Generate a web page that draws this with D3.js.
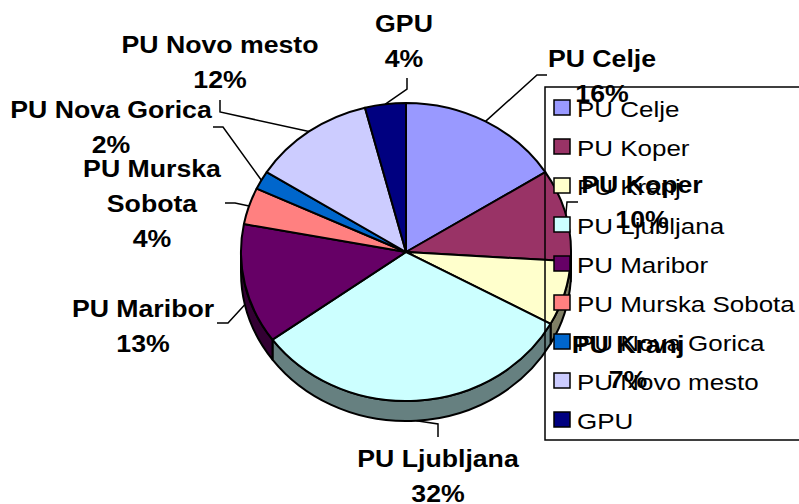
<!DOCTYPE html>
<html>
<head>
<meta charset="utf-8">
<script src="https://cdn.jsdelivr.net/npm/d3@7"></script>
<style>
  body { margin: 0; background: #fff; }
  svg { display: block; font-family: "Liberation Sans", Arial, sans-serif; }
</style>
</head>
<body>
<div id="chart"></div>
<script>
const categories = ['PU Celje', 'PU Koper', 'PU Kranj', 'PU Ljubljana', 'PU Maribor',
  'PU Murska Sobota', 'PU Nova Gorica', 'PU Novo mesto', 'GPU'];
const values = [16, 10, 7, 32, 13, 4, 2, 12, 4];
const colors = ['#9999ff', '#993366', '#ffffcc', '#ccffff', '#660066',
  '#ff8080', '#0066cc', '#ccccff', '#000080'];
const labelNames = [['PU Celje'], ['PU Koper'], ['PU Kranj'], ['PU Ljubljana'], ['PU Maribor'],
  ['PU Murska', 'Sobota'], ['PU Nova Gorica'], ['PU Novo mesto'], ['GPU']];

// label placement (centre x, first baseline) and leader elbows, as Excel left them
const labelLayout = [
  { x: 602, y: 67, leader: [[547, 75], [537, 75]] },
  { x: 642, y: 193, leader: [[578, 202], [567, 202]] },
  { x: 628, y: 353, leader: null },
  { x: 438, y: 467, leader: [[438, 437], [438, 424]] },
  { x: 143, y: 317, leader: [[217, 323], [228, 323]] },
  { x: 152, y: 177, leader: [[225, 203], [235, 203]] },
  { x: 111, y: 118, leader: [[213, 127], [223, 127]] },
  { x: 220, y: 53, leader: [[220, 100], [220, 112]] },
  { x: 404, y: 32, leader: [[407, 78], [407, 89]] }
];

const width = 799;
const height = 504;
const cx = 406, cy = 252, rx = 165, ry = 149, depth = 20;
const labelStretch = 1.16;
const legendStretch = 1.18;
const lineGap = 35;

const svg = d3.select('#chart').append('svg')
    .attr('width', width)
    .attr('height', height);

const pie = d3.pie().sort(null).value(d => d);
const arcs = pie(values).map((d, i) => ({ ...d, i }));

const pt = (a, dy = 0) => [cx + rx * Math.sin(a), cy - ry * Math.cos(a) + dy];
const fmt = p => `${p[0].toFixed(2)},${p[1].toFixed(2)}`;

const darker = c => {
  const r = d3.rgb(c);
  return d3.rgb(r.r / 2, r.g / 2, r.b / 2);
};

// sides (front half only)
const sides = arcs.map(d => {
  const s = Math.max(d.startAngle, Math.PI / 2);
  const e = Math.min(d.endAngle, Math.PI * 3 / 2);
  return { ...d, s, e };
}).filter(d => d.e > d.s);

svg.append('g')
  .selectAll('path')
  .data(sides)
  .join('path')
    .attr('d', d => `M${fmt(pt(d.s))} A${rx},${ry} 0 0 1 ${fmt(pt(d.e))}` +
      ` L${fmt(pt(d.e, depth))} A${rx},${ry} 0 0 0 ${fmt(pt(d.s, depth))} Z`)
    .attr('fill', d => darker(colors[d.i]))
    .attr('stroke', 'black')
    .attr('stroke-width', 2)
    .attr('stroke-linejoin', 'round');

// top faces
svg.append('g')
  .selectAll('path')
  .data(arcs)
  .join('path')
    .attr('d', d => {
      const large = d.endAngle - d.startAngle > Math.PI ? 1 : 0;
      return `M${cx},${cy} L${fmt(pt(d.startAngle))} A${rx},${ry} 0 ${large} 1 ${fmt(pt(d.endAngle))} Z`;
    })
    .attr('fill', d => colors[d.i])
    .attr('stroke', 'black')
    .attr('stroke-width', 2)
    .attr('stroke-linejoin', 'round');

// legend
const row = d3.scaleBand()
    .domain(categories)
    .range([88.5, 439.5]);

const legend = svg.append('g');

legend.append('rect')
    .attr('x', 545)
    .attr('y', 87)
    .attr('width', 300)
    .attr('height', 353)
    .attr('fill', 'none')
    .attr('stroke', 'black')
    .attr('stroke-width', 1.5);

const item = legend.selectAll('.item')
  .data(categories)
  .join('g')
    .attr('class', 'item')
    .attr('transform', d => `translate(554,${row(d) + row.bandwidth() / 2})`);

item.append('rect')
    .attr('x', 0)
    .attr('y', -8)
    .attr('width', 16)
    .attr('height', 15)
    .attr('fill', (d, i) => colors[i])
    .attr('stroke', 'black')
    .attr('stroke-width', 1.5);

item.append('text')
    .attr('transform', `translate(23,8.5) scale(${legendStretch},1)`)
    .attr('font-size', 22)
    .attr('fill', 'black')
    .text(d => d);

// leader lines
svg.append('g')
  .selectAll('polyline')
  .data(arcs.filter(d => labelLayout[d.i].leader))
  .join('polyline')
    .attr('points', d => {
      const mid = (d.startAngle + d.endAngle) / 2;
      const end = Math.cos(mid) < 0 ? pt(mid, depth) : pt(mid);
      return [...labelLayout[d.i].leader, end].map(fmt).join(' ');
    })
    .attr('fill', 'none')
    .attr('stroke', 'black')
    .attr('stroke-width', 1.5);

// data labels
const label = svg.append('g')
  .selectAll('g')
  .data(arcs)
  .join('g')
    .attr('transform', d => `translate(${labelLayout[d.i].x},${labelLayout[d.i].y})`);

label.selectAll('text')
  .data(d => [...labelNames[d.i], `${values[d.i]}%`])
  .join('text')
    .attr('transform', (d, j) => `translate(0,${j * lineGap}) scale(${labelStretch},1)`)
    .attr('text-anchor', 'middle')
    .attr('font-size', 23)
    .attr('font-weight', 'bold')
    .attr('fill', 'black')
    .text(d => d);
</script>
</body>
</html>
